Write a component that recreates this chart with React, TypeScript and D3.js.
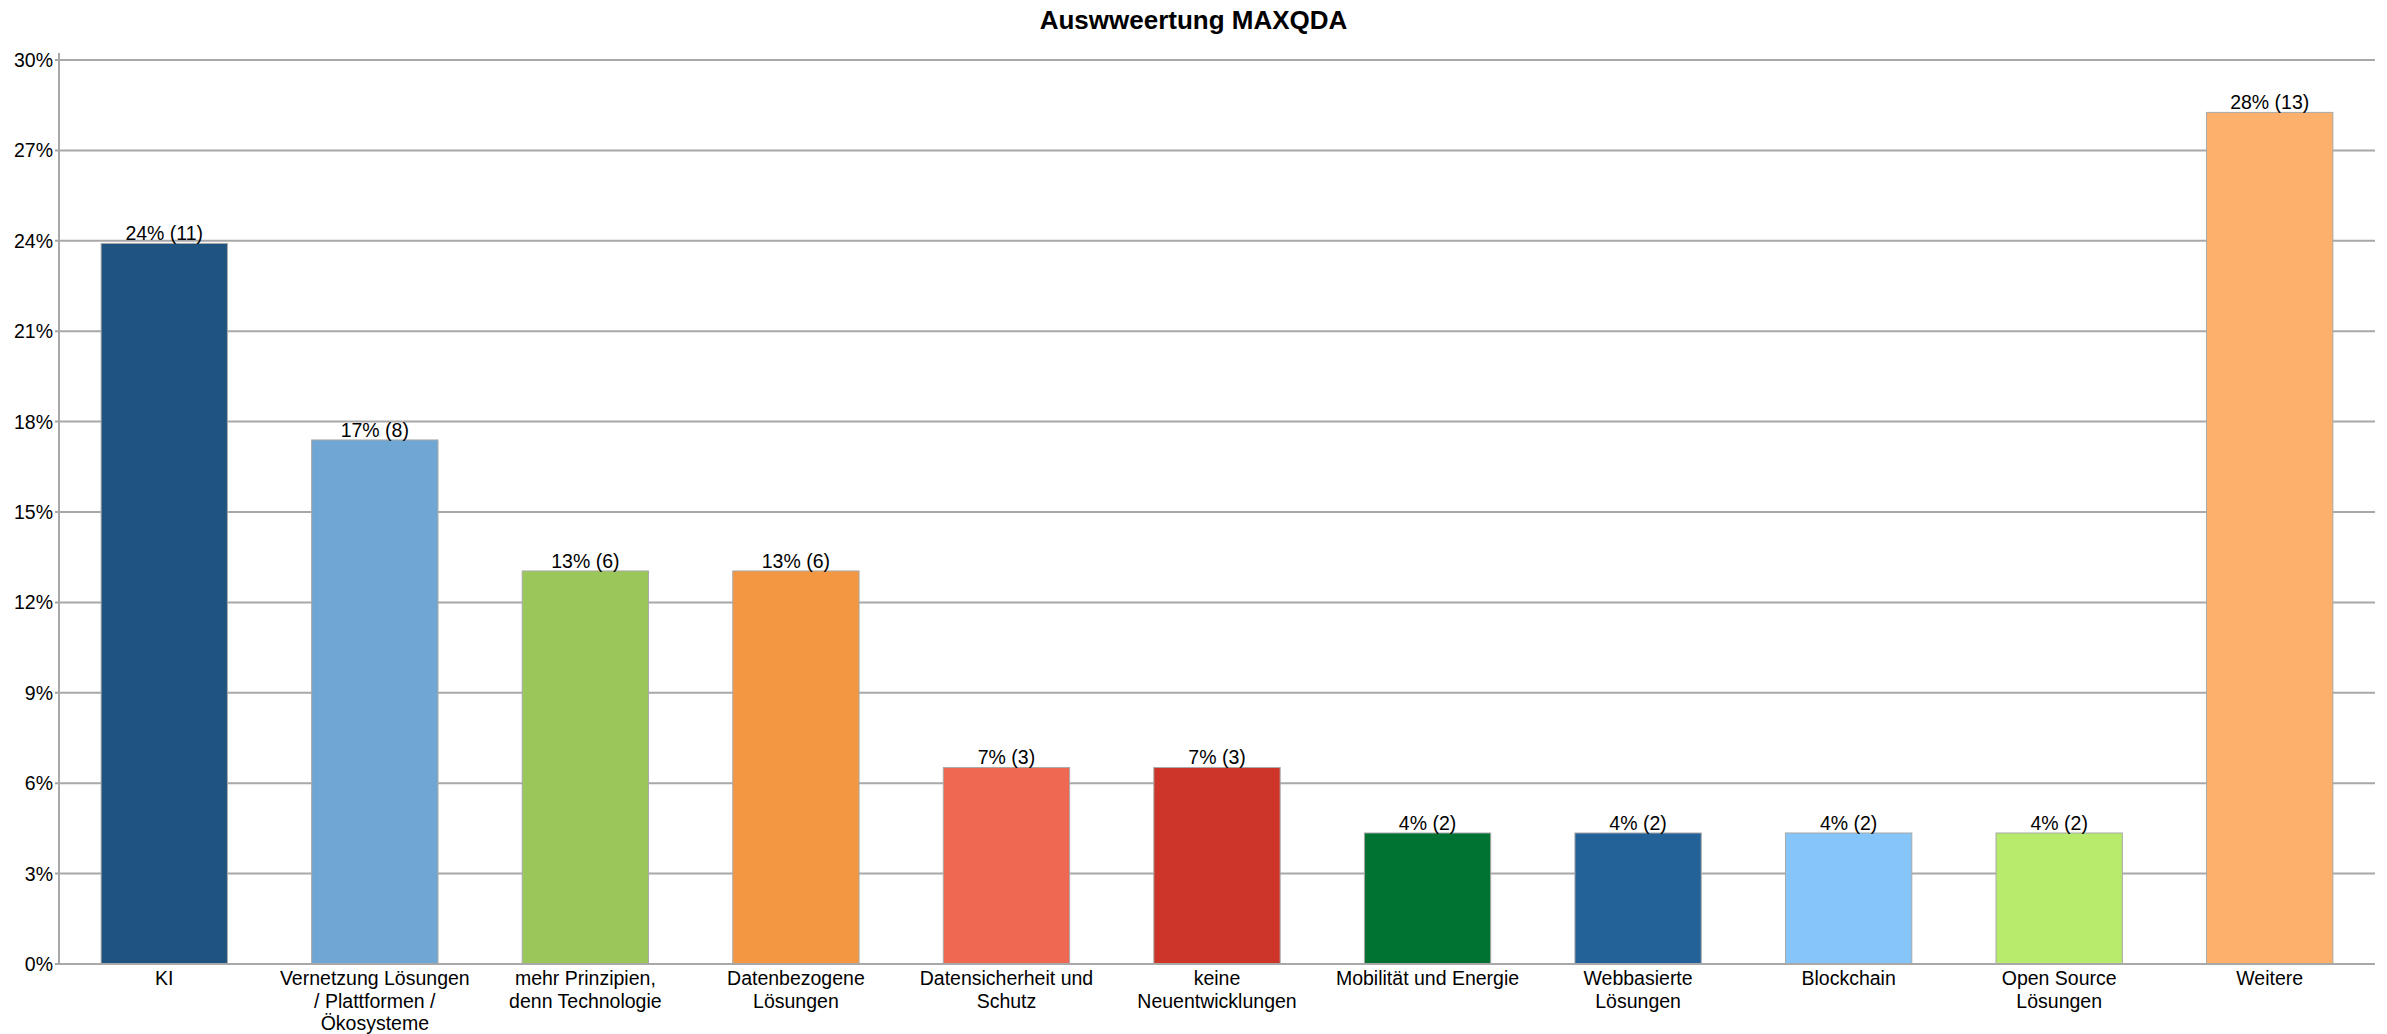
import React from "react";
import * as d3 from "d3";

const categories: string[][] = [
  ["KI"],
  ["Vernetzung Lösungen", "/ Plattformen /", "Ökosysteme"],
  ["mehr Prinzipien,", "denn Technologie"],
  ["Datenbezogene", "Lösungen"],
  ["Datensicherheit und", "Schutz"],
  ["keine", "Neuentwicklungen"],
  ["Mobilität und Energie"],
  ["Webbasierte", "Lösungen"],
  ["Blockchain"],
  ["Open Source", "Lösungen"],
  ["Weitere"],
];
const counts = [11, 8, 6, 6, 3, 3, 2, 2, 2, 2, 13];
const respondents = 46;
const colors = [
  "#1f5380", "#6fa6d3", "#9bc65a", "#f49742", "#ee6852", "#cc3528",
  "#007232", "#226298", "#85c5fa", "#b8ea6b", "#fcb06b",
];
const yTicks = [0, 3, 6, 9, 12, 15, 18, 21, 24, 27, 30];
const title = "Auswweertung MAXQDA";

const W = 2387;
const H = 1034;
const margin = { left: 59, right: 12, top: 60, bottom: 70 };
const FONT = "'Liberation Sans', Arial, Helvetica, sans-serif";

export default function App() {
  const x = d3
    .scaleBand<number>()
    .domain(d3.range(counts.length))
    .range([margin.left, W - margin.right])
    .paddingInner(0.4)
    .paddingOuter(0.2);
  const y = d3
    .scaleLinear()
    .domain([0, 30])
    .range([H - margin.bottom, margin.top]);
  const pct = counts.map((c) => (c / respondents) * 100);
  const grid = "#a8a8a8";

  return (
    <svg
      width={W}
      height={H}
      style={{ position: "absolute", left: 0, top: 0, background: "#fff" }}
      fontFamily={FONT}
    >
      <text
        x={W / 2}
        y={29}
        textAnchor="middle"
        fontWeight="bold"
        fontSize={26}
        fill="#000"
      >
        {title}
      </text>

      {yTicks.map((t) => (
        <g key={t}>
          <line
            x1={margin.left - 4}
            x2={W - margin.right}
            y1={y(t)}
            y2={y(t)}
            stroke={grid}
            strokeWidth={2}
          />
          <text
            x={margin.left - 6}
            y={y(t) + 7}
            textAnchor="end"
            fontSize={19.5}
            fill="#000"
          >
            {t}%
          </text>
        </g>
      ))}
      <line
        x1={margin.left}
        x2={margin.left}
        y1={margin.top - 7}
        y2={y(0)}
        stroke={grid}
        strokeWidth={2}
      />

      {pct.map((p, i) => {
        const bx = x(i)!;
        const bw = x.bandwidth();
        return (
          <g key={i}>
            <rect
              x={bx}
              y={y(p)}
              width={bw}
              height={y(0) - y(p)}
              fill={colors[i]}
              stroke="#a9a9a9"
              strokeWidth={1}
            />
            <text
              x={bx + bw / 2}
              y={y(p) - 3}
              textAnchor="middle"
              fontSize={19.5}
              fill="#000"
            >
              {`${Math.round(p)}% (${counts[i]})`}
            </text>
            {categories[i].map((line, j) => (
              <text
                key={j}
                x={bx + bw / 2}
                y={y(0) + 21 + j * 22.5}
                textAnchor="middle"
                fontSize={19.5}
                fill="#000"
              >
                {line}
              </text>
            ))}
          </g>
        );
      })}
      <line
        x1={margin.left}
        x2={W - margin.right}
        y1={y(0)}
        y2={y(0)}
        stroke={grid}
        strokeWidth={2}
      />
    </svg>
  );
}
